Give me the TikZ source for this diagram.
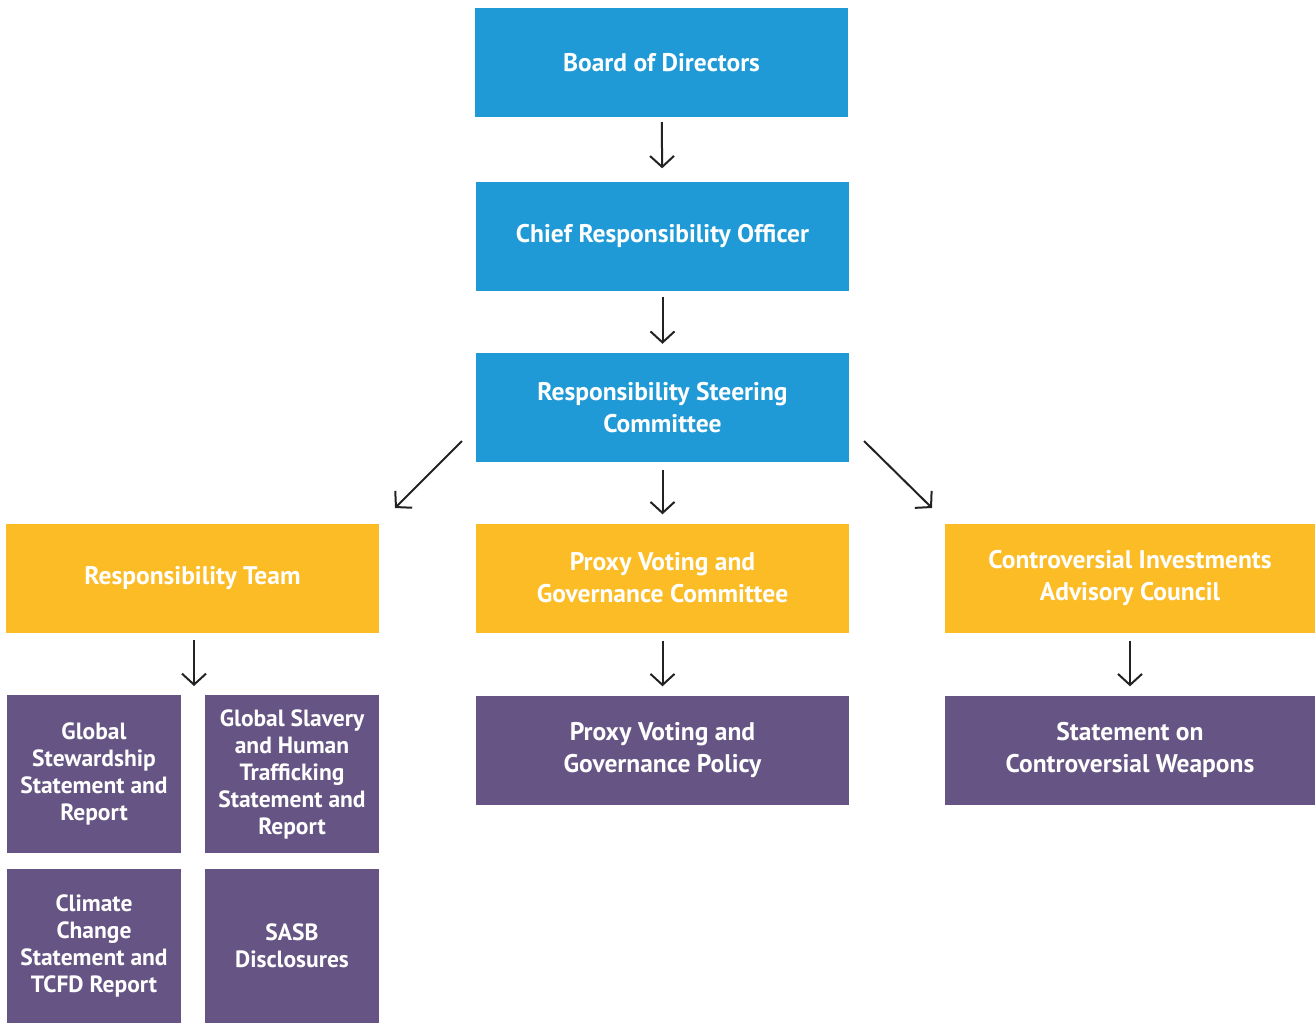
\documentclass[tikz,border=0pt]{standalone}
\usepackage{fontspec}
\setmainfont{PT Sans}
\usetikzlibrary{arrows.meta}

\definecolor{boardblue}{HTML}{1F9AD6}
\definecolor{teamyellow}{HTML}{FBBC26}
\definecolor{docpurple}{HTML}{665584}
\definecolor{arrowgray}{HTML}{222222}

\begin{document}
\begin{tikzpicture}[x=1pt, y=-1pt,
    box/.style={inner sep=0pt, align=center, text=white, font=\bfseries\fontsize{25.5}{32}\selectfont},
    bluebox/.style={box, fill=boardblue, minimum width=373pt, minimum height=109pt},
    yellowbox/.style={box, fill=teamyellow, minimum height=109pt},
    purplebox/.style={box, fill=docpurple, font=\bfseries\fontsize{23.5}{27}\selectfont},
    arr/.style={draw=arrowgray, line width=2pt, -{Straight Barb[length=11pt,width=24pt,line width=2pt]}}]

  \useasboundingbox (0,0) rectangle (1315,1023);

  % top chain
  \node[bluebox] (board) at (661.5,62.5) {Board of Directors};
  \node[bluebox] (cro)   at (662.5,236) {Chief Responsibility Officer};
  \node[bluebox] (rsc)   at (662.5,407.5) {Responsibility Steering\\Committee};

  % second row
  \node[yellowbox, minimum width=373pt] (team)  at (192.5,578) {Responsibility Team};
  \node[yellowbox, minimum width=373pt] (proxy) at (662.5,578) {Proxy Voting and\\Governance Committee};
  \node[yellowbox, minimum width=370pt] (ciac)  at (1130,578) {Controversial Investments\\Advisory Council};

  % documents
  \node[purplebox, minimum width=174pt, minimum height=158pt] (stew)    at (94,774) {Global\\Stewardship\\Statement and\\Report};
  \node[purplebox, minimum width=174pt, minimum height=158pt] (slavery) at (292,774) {Global Slavery\\and Human\\Trafficking\\Statement and\\Report};
  \node[purplebox, minimum width=174pt, minimum height=154pt] (climate) at (94,946) {Climate\\Change\\Statement and\\TCFD Report};
  \node[purplebox, minimum width=174pt, minimum height=154pt] (sasb)    at (292,946) {SASB\\Disclosures};
  \node[box, fill=docpurple, minimum width=373pt, minimum height=109pt] (policy) at (662.5,750) {Proxy Voting and\\Governance Policy};
  \node[box, fill=docpurple, minimum width=370pt, minimum height=109pt] (weapons) at (1130,750) {Statement on\\Controversial Weapons};

  % arrows
  \draw[arr, shorten <=5pt, shorten >=13pt] (board) -- (cro);
  \draw[arr, shorten <=6pt, shorten >=9pt] (cro) -- (rsc);
  \draw[arr, shorten <=8pt, shorten >=9pt] (rsc) -- (proxy);
  \draw[arr, shorten <=8pt, shorten >=9pt] (proxy) -- (policy);
  \draw[arr, shorten <=8pt, shorten >=9pt] (ciac) -- (weapons);

  \coordinate (teamout) at (194,640);
  \coordinate (teamin)  at (194,686);
  \draw[arr] (teamout) -- (teamin);

  \coordinate (leftout)  at (462,441);
  \coordinate (leftin)   at (395,508);
  \coordinate (rightout) at (864,441);
  \coordinate (rightin)  at (932,508);
  \draw[arr] (leftout) -- (leftin);
  \draw[arr] (rightout) -- (rightin);

\end{tikzpicture}
\end{document}
